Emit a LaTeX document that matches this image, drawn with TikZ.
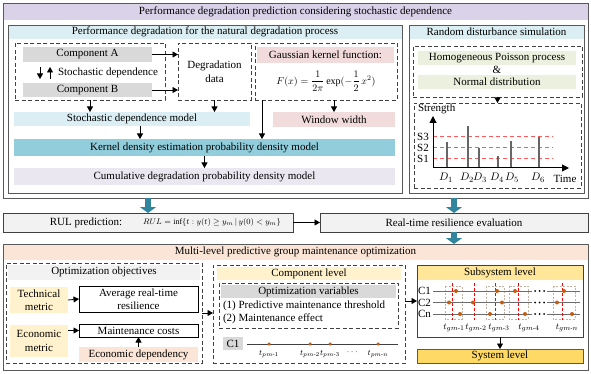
\documentclass[tikz,border=0pt]{standalone}
\usepackage{fontspec}
\setmainfont{Liberation Serif}
\usepackage{amsmath}
\usetikzlibrary{arrows.meta}
\definecolor{purpc}{HTML}{D9D2E9}
\definecolor{lbluec}{HTML}{DAEEF3}
\definecolor{tealc}{HTML}{92CDDC}
\definecolor{pinkc}{HTML}{F2DCDB}
\definecolor{lavc}{HTML}{EAE7F0}
\definecolor{grayc}{HTML}{D9D9D9}
\definecolor{greenc}{HTML}{EBF1DE}
\definecolor{lgrayc}{HTML}{F2F2F2}
\definecolor{peachc}{HTML}{FBE5D6}
\definecolor{yelc}{HTML}{FFF2CC}
\definecolor{yeltwo}{HTML}{FFE699}
\definecolor{yelthree}{HTML}{FFD966}
\definecolor{bluec}{HTML}{31859C}
\definecolor{dotc}{HTML}{C55A11}
\definecolor{framec}{HTML}{595959}
\definecolor{dashc}{HTML}{404040}
\newcommand\mybox[6]{\node[#2,minimum width={(#5-#3)*1pt},minimum height={(#6-#4)*1pt}] (#1) at ({(#3+#5)/2},{(#4+#6)/2})}
\begin{document}
\begin{tikzpicture}[x=1pt,y=-1pt,font=\fontsize{11}{13.5}\selectfont,
 bx/.style={inner sep=0pt,outer sep=0pt,align=center},
 frame/.style={bx,draw=framec,line width=0.9pt},
 dbox/.style={bx,draw=dashc,line width=0.9pt,dash pattern=on 4pt off 2.5pt},
 arr/.style={line width=0.8pt,-{Triangle[width=6pt,length=5.5pt]}},
 barr/.style={draw=bluec,line width=6.5pt,-{Triangle[width=16pt,length=6pt]}},
 reddash/.style={draw=red!65,line width=1pt,dash pattern=on 4pt off 3pt},
 spike/.style={draw=gray!80!black,line width=1.3pt},
 rowline/.style={draw=gray!85!black,line width=1pt},
 grpbox/.style={draw=brown!40!gray!60,line width=0.5pt,dash pattern=on 2pt off 1.5pt},
 gmred/.style={draw=red,line width=0.8pt,dash pattern=on 3pt off 2pt},
 dot/.style={circle,fill=dotc,inner sep=0pt,minimum size=4pt},
 small/.style={font=\fontsize{9.5}{11}\selectfont},
 tiny/.style={font=\fontsize{8}{9}\selectfont},
]
\useasboundingbox (0,0) rectangle (591,374);

% ---------- top block ----------
\mybox{toph}{bx,fill=purpc}{3}{3}{588}{20}{Performance degradation prediction considering stochastic dependence};
\mybox{top}{frame}{3}{3}{588}{198}{};
\mybox{lefth}{bx,fill=lbluec}{8}{25}{402}{39}{Performance degradation for the natural degradation process};
\mybox{left}{frame}{8}{25}{402}{193}{};
\mybox{righth}{bx,fill=lbluec}{409}{25}{584}{39}{Random disturbance simulation};
\mybox{right}{frame}{409}{25}{584}{193}{};

\mybox{box1}{dbox}{15}{43}{165}{100}{};
\mybox{compA}{bx,fill=grayc}{23}{47}{152}{62}{Component A};
\mybox{compB}{bx,fill=grayc}{23}{83}{152}{97}{Component B};
\node[bx] (stochtxt) at (108,72.5) {Stochastic dependence};
\draw[arr] (40,67) -- (40,79);
\draw[arr] (50,79) -- (50,67);
\mybox{data}{dbox}{178}{43}{251}{100}{Degradation\\data};
\draw[arr] (compA.east) -- (compA.east -| data.west);
\draw[arr] (compB.east) -- (compB.east -| data.west);

\mybox{gauss}{dbox}{255}{43}{397}{100}{};
\mybox{gaussh}{bx,fill=pinkc}{257}{47}{394}{63}{Gaussian kernel function:};
\node[bx,font=\fontsize{10}{12}\selectfont] (formula) at (326,81) {$\displaystyle F(x)=\frac{1}{2\pi}\exp(-\frac{1}{2}\,x^{2})$};

\mybox{stoch}{bx,fill=lbluec}{14}{112}{250}{126}{Stochastic dependence model};
\mybox{window}{bx,fill=pinkc}{273}{112}{395}{127}{Window width};
\mybox{kernel}{bx,fill=tealc}{14}{139}{395}{156}{Kernel density estimation probability density model};
\mybox{cum}{bx,fill=lavc}{14}{168}{395}{185}{Cumulative degradation probability density model};

\draw[arr] (box1.south) -- (box1.south |- stoch.north);
\draw[arr] (data.south) -- (data.south |- stoch.north);
\draw[arr] (window.north |- gauss.south) -- (window.north);
\draw[arr] ([xshift=7pt]gauss.south west) -- ([xshift=7pt]gauss.south west |- kernel.north);
\draw[arr] ([xshift=8pt]stoch.south) -- ([xshift=8pt]stoch.south |- kernel.north);
\draw[arr] (kernel.south) -- (cum.north);

% right: random disturbance
\mybox{rd}{dbox}{413}{46}{582}{97}{};
\mybox{poisson}{bx,fill=greenc}{418}{51}{576}{65}{Homogeneous Poisson process};
\node[bx] (amp) at (497,70) {\&};
\mybox{normal}{bx,fill=greenc}{418}{75}{576}{89}{Normal distribution};
\mybox{chart}{dbox}{414}{103}{581}{188}{};
\draw[arr] (rd.south) -- (chart.north);

% chart
\node[bx,anchor=west] (strength) at (418,109) {Strength};
\foreach \yy/\lab in {137/S3,148/S2,159/S1}{
  \draw[reddash] (433,\yy) -- (553,\yy);
  \node[bx] at (423,\yy) {\lab};
}
\foreach \xx/\yy in {447/142,468/126,479/148,498/156,511/141,539/137}{
  \draw[spike] (\xx,168) -- (\xx,\yy);
}
\draw[line width=1pt,-{Triangle[width=7pt,length=7pt]}] (433,168) -- (433,116);
\draw[line width=1pt,-{Triangle[width=7pt,length=7pt]}] (433,168) -- (569,168);
\node[bx] at (565,179) {Time};
\foreach \xx/\i in {446/1,467/2,480/3,497/4,512/5,538/6}{
  \node[bx] at (\xx,178) {$D_{\i}$};
}

% ---------- middle row ----------
\mybox{rul}{bx,draw=dashc,line width=0.8pt,fill=lgrayc}{3}{213}{293}{232}{};
\node[bx] (rultxt) at (86,222.5) {RUL prediction:};
\node[bx,font=\fontsize{8}{9}\selectfont] (rulf) at (212,222.5) {$RUL=\inf\{t:y(t)\geq y_{m}\,|\,y(0)<y_{m}\}$};
\mybox{rt}{bx,draw=dashc,line width=0.8pt,fill=lgrayc}{320}{213}{588}{232}{Real-time resilience evaluation};
\draw[arr] (rul.east) -- (rt.west);
\draw[barr] (top.south -| rul.north) -- (rul.north);
\draw[barr] (top.south -| rt.north) -- (rt.north);

% ---------- bottom block ----------
\mybox{multih}{bx,fill=peachc}{3}{244}{588}{260}{Multi-level predictive group maintenance optimization};
\mybox{multi}{frame}{3}{244}{588}{370}{};
\draw[barr] (rt.south) -- (rt.south |- multi.north);

\mybox{objh}{bx,fill=lgrayc}{8}{264.5}{200}{280}{Optimization objectives};
\mybox{obj}{dbox}{6}{263}{202}{363}{};
\mybox{tech}{bx,fill=yelc}{10}{287}{68}{313}{Technical\\metric};
\mybox{avg}{bx,draw=black,line width=0.8pt}{79}{286}{198}{312}{Average real-time\\resilience};
\mybox{econ}{bx,fill=yelc}{10}{325}{68}{357}{Economic\\metric};
\mybox{maint}{bx,draw=black,line width=0.8pt}{79}{324}{198}{337}{Maintenance costs};
\mybox{dep}{bx,fill=peachc}{79}{347}{198}{362}{Economic dependency};
\draw[arr] (tech.east) -- (avg.west);
\draw[arr] (econ.east |- maint.west) -- (maint.west);
\draw[arr] (dep.north) -- (maint.south);

\mybox{comph}{bx,fill=yelc}{217}{267}{401}{280}{Component level};
\mybox{comp}{dbox}{213}{265}{405}{363}{};
\mybox{ovh}{bx,fill=grayc}{221}{285}{396}{298}{Optimization variables};
\mybox{ov}{dbox}{219}{283}{398}{328}{};
\node[bx,anchor=west] (item1) at (223,305.5) {(1) Predictive maintenance threshold};
\node[bx,anchor=west] (item2) at (223,319) {(2) Maintenance effect};
\mybox{cone}{bx,fill=grayc}{223}{337}{243}{350}{C1};
\coordinate (clineend) at (398,344);
\draw[draw=dashc,line width=0.8pt] (cone.east |- clineend) ++(4,0) -- (clineend);
\foreach \xx/\lab in {269/1,310/2,330/3,378/n}{
  \node[dot,minimum size=3.5pt] at (\xx,344) {};
  \node[bx,tiny] at (\xx,354) {$t_{pm\text{-}\lab}$};
}
\node[bx,small] at (353,352) {$\cdots$};
\draw[arr] (obj.east) -- (obj.east -| comp.west);

\mybox{subh}{bx,fill=yeltwo}{417}{265}{583}{280}{Subsystem level};
\mybox{sub}{bx,draw=dashc,line width=1pt}{417}{265}{583}{337}{};
\mybox{sys}{bx,draw=framec,line width=0.8pt,fill=yelthree}{417}{349}{583}{363}{System level};
\draw[arr] (comp.east |- sub.center) -- (sub.west);
\draw[arr] (sub.south) -- (sys.north);

\foreach \xa/\xb in {445/462,486/504,509/528,553/575}{
  \draw[grpbox] (\xa,286) rectangle (\xb,319);
}
\foreach \yy/\lab in {291/C1,302.5/C2,314/Cn}{
  \node[bx,anchor=west] at (418,\yy) {\lab};
  \draw[rowline] (433,\yy) -- (532,\yy);
  \draw[rowline] (547,\yy) -- (580,\yy);
  \foreach \dx in {535,539.5,544}{\fill (\dx,\yy) circle (1pt);}
}
\foreach \xx in {452,474,495,518,562}{
  \draw[gmred] (\xx,283) -- (\xx,320);
}
\foreach \xx/\yy in {456/291,497/291,515/291,564/291,449/302.5,473/302.5,502/302.5,557/302.5,460/314,490/314,525/314,572/314}{
  \node[dot] at (\xx,\yy) {};
}
\foreach \xx/\lab in {454/1,476/2,499/3,529/4,567/n}{
  \node[bx,small] at (\xx,328) {$t_{gm\text{-}\lab}$};
}
\end{tikzpicture}
\end{document}
